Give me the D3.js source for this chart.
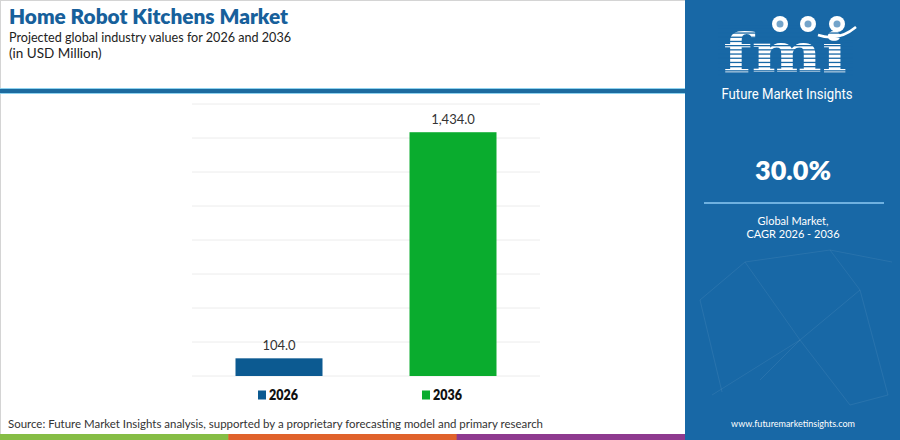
<!DOCTYPE html>
<html><head><meta charset="utf-8">
<script src="https://cdn.jsdelivr.net/npm/d3@7"></script>
<style>
html,body{margin:0;padding:0;background:#fff;}
svg{display:block;font-family:"Lato","Open Sans",sans-serif;}
</style></head>
<body>
<svg id="c" width="900" height="440"></svg>
<script>
const years = ["2026", "2036"];
const values = [104.0, 1434.0];
const barColors = ["#0c5a91", "#0aac2e"];
const yTicks = [0, 200, 400, 600, 800, 1000, 1200, 1400, 1600];
const title = "Home Robot Kitchens Market";
const subtitle1 = "Projected global industry values for 2026 and 2036";
const subtitle2 = "(in USD Million)";
const cagr = "30.0%";
const source = "Source: Future Market Insights analysis, supported by a proprietary forecasting model and primary research";
const stripColors = ["#86bd45", "#e0622b", "#8e3a8f"];

const svg = d3.select("#c");

// frame
svg.append("rect").attr("x",0.5).attr("y",0.5).attr("width",685).attr("height",438)
  .attr("fill","#fff").attr("stroke","#d4d4d4");

// title
svg.append("text").attr("x",9).attr("y",24).attr("fill","#17609b")
  .attr("font-size",20).attr("font-weight",800).attr("font-family","Lato, sans-serif")
  .attr("textLength",279).attr("lengthAdjust","spacingAndGlyphs").text(title);
svg.append("text").attr("x",9).attr("y",42).attr("fill","#222")
  .attr("font-size",13.5).attr("font-family","Lato, sans-serif")
  .attr("textLength",282).attr("lengthAdjust","spacingAndGlyphs").text(subtitle1);
svg.append("text").attr("x",9).attr("y",58).attr("fill","#222")
  .attr("font-size",13.5).attr("font-family","Lato, sans-serif").text(subtitle2);

// header rule
svg.append("rect").attr("x",0).attr("y",88).attr("width",686).attr("height",6).attr("fill","#8fd3f0");
svg.append("rect").attr("x",0).attr("y",89).attr("width",686).attr("height",4).attr("fill","#1d6b9f");

// chart
const x = d3.scaleBand().domain(years).range([192, 540]).paddingInner(0.5).paddingOuter(0.25);
const y = d3.scaleLinear().domain([0, 1600]).range([376, 104]);

svg.append("g").selectAll("line").data(yTicks).join("line")
  .attr("x1",192).attr("x2",540).attr("y1",d=>y(d)).attr("y2",d=>y(d))
  .attr("stroke","#ececec").attr("stroke-width",1);

svg.append("g").selectAll("rect").data(values).join("rect")
  .attr("x",(d,i)=>x(years[i])).attr("width",x.bandwidth())
  .attr("y",d=>y(d)).attr("height",d=>y(0)-y(d))
  .attr("fill",(d,i)=>barColors[i]);

const fmt = d3.format(",.1f");
svg.append("g").selectAll("text").data(values).join("text")
  .attr("x",(d,i)=>x(years[i])+x.bandwidth()/2).attr("y",d=>y(d)-8)
  .attr("text-anchor","middle").attr("font-size",13).attr("fill","#333")
  .attr("font-family","Lato, sans-serif")
  .text(d=>fmt(d));

// legend
const lx = d3.scalePoint().domain(years).range([258, 422]);
const lg = svg.append("g").selectAll("g").data(years).join("g")
  .attr("transform",d=>`translate(${lx(d)},395)`);
lg.append("rect").attr("x",0).attr("y",-4.5).attr("width",8).attr("height",9).attr("fill",(d,i)=>barColors[i]);
lg.append("text").attr("x",11).attr("y",5).attr("font-size",14).attr("font-weight",800)
  .attr("fill","#111").attr("font-family","Lato, sans-serif")
  .attr("textLength",29).attr("lengthAdjust","spacingAndGlyphs").text(d=>d);

// source
svg.append("text").attr("x",8).attr("y",428).attr("font-size",11.5).attr("fill","#333")
  .attr("font-family","Lato, sans-serif")
  .attr("textLength",535).attr("lengthAdjust","spacingAndGlyphs").text(source);

// bottom strip
const sx = d3.scaleBand().domain(stripColors).range([0, 685]);
svg.append("g").selectAll("rect").data(stripColors).join("rect")
  .attr("x",d=>sx(d)).attr("y",434).attr("width",sx.bandwidth()+0.5).attr("height",6).attr("fill",d=>d);

// right panel
svg.append("rect").attr("x",685).attr("y",0).attr("width",215).attr("height",440).attr("fill","#1868a6");

// faint network lines
const net = [[700,300,745,262],[745,262,800,340],[800,340,860,290],[860,290,888,395],[712,395,800,340],[745,262,830,250],[830,250,860,290],[700,300,722,392],[800,340,850,405],[850,405,888,395],[760,380,800,340],[830,250,892,262]];
svg.append("g").selectAll("line").data(net).join("line")
  .attr("x1",d=>d[0]).attr("y1",d=>d[1]).attr("x2",d=>d[2]).attr("y2",d=>d[3])
  .attr("stroke","#ffffff").attr("stroke-opacity",0.07).attr("stroke-width",1);

// logo
const logo = svg.append("g");
logo.append("text").attr("x",785).attr("y",72).attr("text-anchor","middle")
  .attr("font-family","DejaVu Serif, serif").attr("font-weight",700).attr("font-size",54)
  .attr("fill","#fff").attr("textLength",124).attr("lengthAdjust","spacingAndGlyphs").text("fmi");
for(let yy=24; yy<76; yy+=4.2){
  logo.append("rect").attr("x",718).attr("y",yy).attr("width",135).attr("height",1.3).attr("fill","#1868a6");
}
[[780,24],[808,24],[837,24]].forEach(p=>{
  logo.append("circle").attr("cx",p[0]).attr("cy",p[1]).attr("r",8).attr("fill","#fff");
  logo.append("circle").attr("cx",p[0]).attr("cy",p[1]).attr("r",3.5).attr("fill","#1868a6").attr("opacity",0.6);
});
logo.append("path").attr("d","M818 35 Q838 42 856 27").attr("fill","none").attr("stroke","#fff").attr("stroke-width",2.5);
logo.append("text").attr("x",787).attr("y",99).attr("text-anchor","middle")
  .attr("font-family","Roboto, sans-serif").attr("font-size",14).attr("fill","#fff")
  .attr("textLength",131).attr("lengthAdjust","spacingAndGlyphs").text("Future Market Insights");

// cagr
svg.append("text").attr("x",793).attr("y",180).attr("text-anchor","middle")
  .attr("font-family","Lato, sans-serif").attr("font-weight",800).attr("font-size",27)
  .attr("fill","#fff").text(cagr);
svg.append("line").attr("x1",704).attr("x2",884).attr("y1",203).attr("y2",203)
  .attr("stroke","#6fb1e0").attr("stroke-width",2);
svg.append("text").attr("x",793).attr("y",225).attr("text-anchor","middle")
  .attr("font-family","Lato, sans-serif").attr("font-size",11).attr("fill","#fff").text("Global Market,");
svg.append("text").attr("x",793).attr("y",238).attr("text-anchor","middle")
  .attr("font-family","Lato, sans-serif").attr("font-size",11).attr("fill","#fff").text("CAGR 2026 - 2036");
svg.append("text").attr("x",793).attr("y",427).attr("text-anchor","middle")
  .attr("font-family","Lato, sans-serif").attr("font-size",9).attr("fill","#fff").text("www.futuremarketinsights.com");
</script>
</body></html>
